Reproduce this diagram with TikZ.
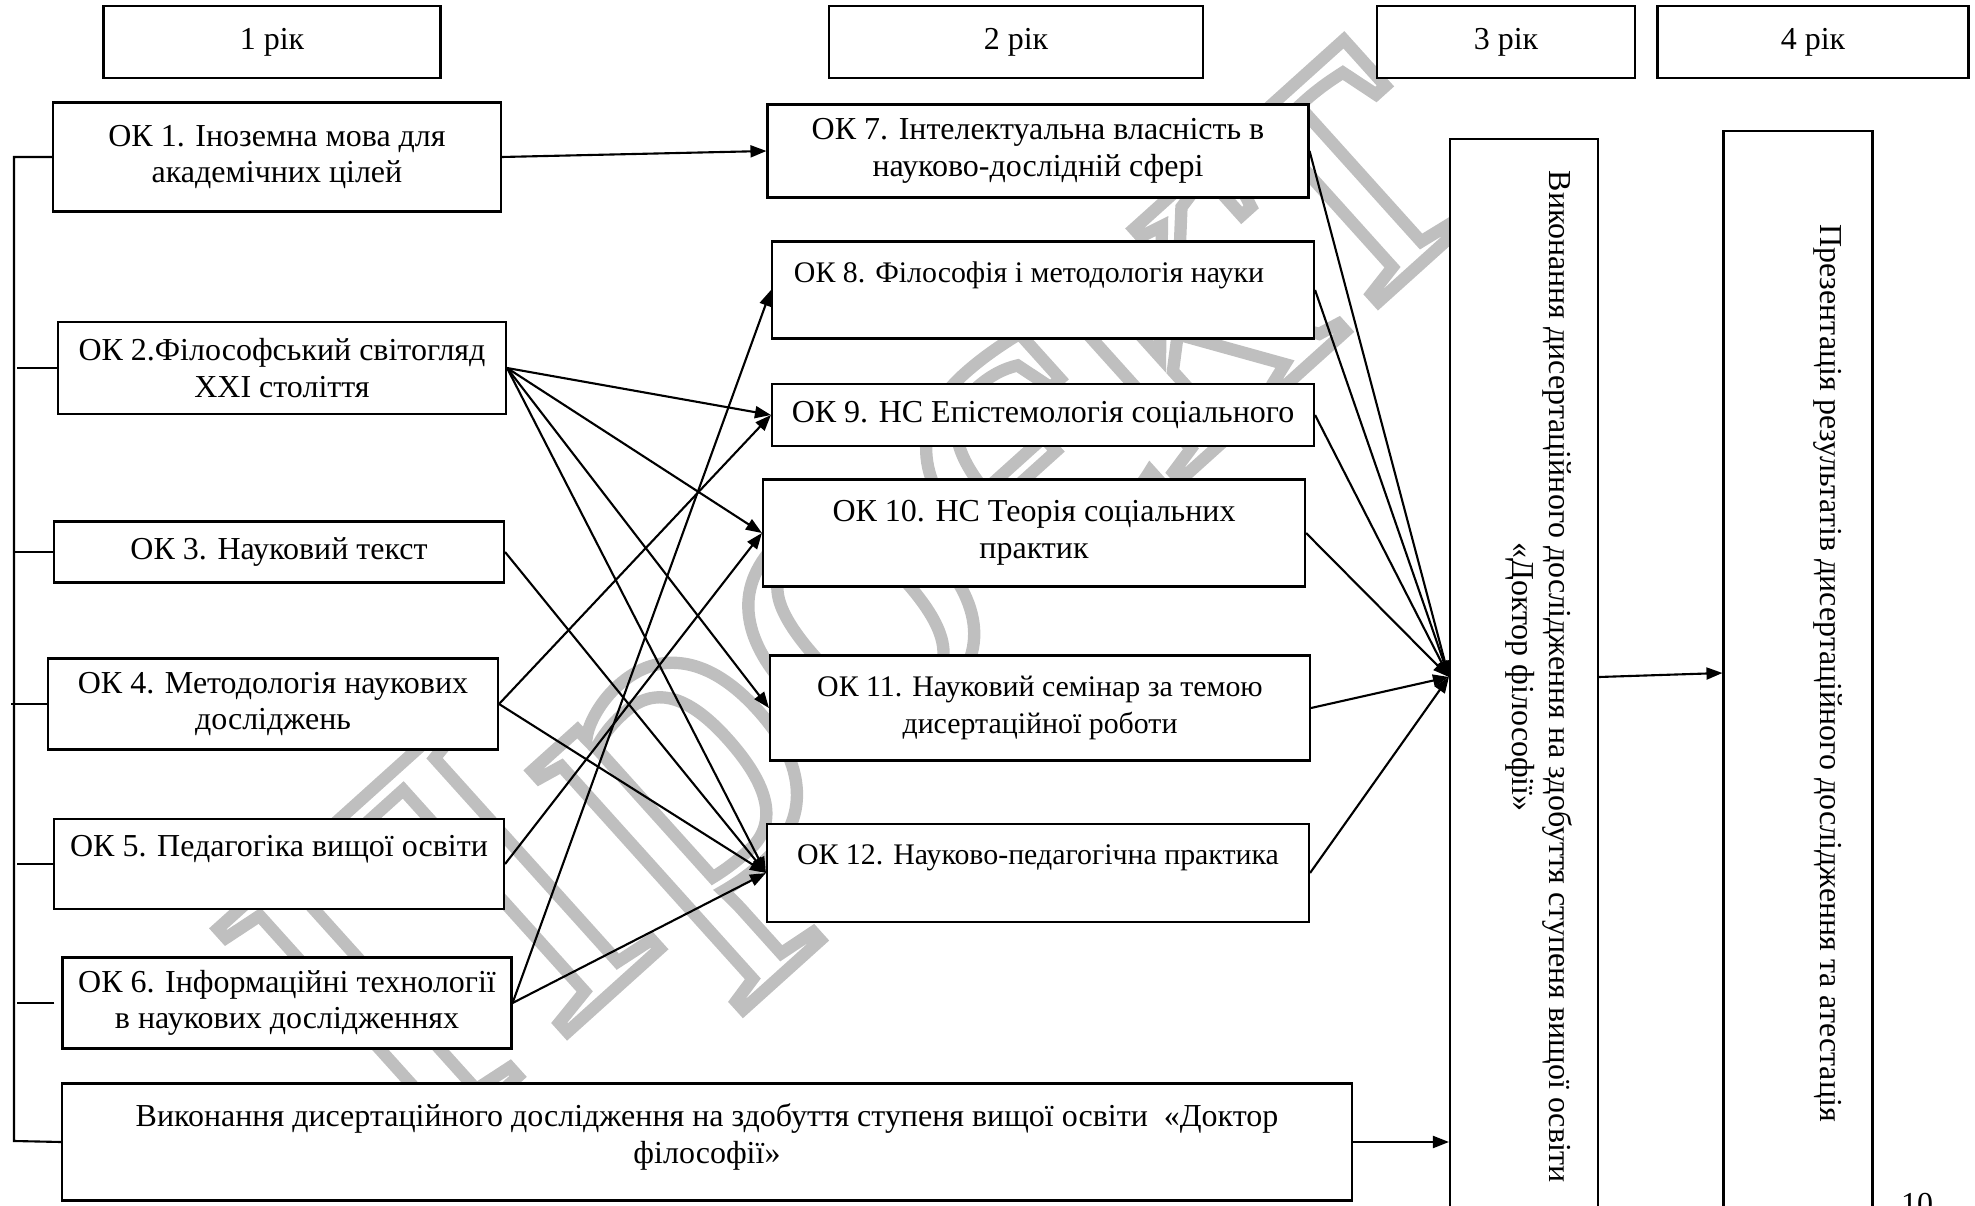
\documentclass[tikz,border=0pt]{standalone}
\usepackage{fontspec}
\setmainfont{Liberation Serif}
\usepackage{graphicx}
\usetikzlibrary{calc,arrows.meta}
\definecolor{wmgray}{RGB}{191,191,191}
\def\okbox{\node[draw=black,fill=white,align=center,inner sep=0pt]}
\def\drawarrow{\draw[-{Triangle[length=1.6mm,width=1.2mm]}]}
\newcommand{\vtext}[1]{\rotatebox{-90}{\begin{tabular}{@{}c@{}}#1\end{tabular}}}
\newcommand{\smallok}{\fontsize{8.5}{10.4}\selectfont}

\begin{document}
\begin{tikzpicture}[x=0.1mm,y=-0.1mm,line width=0.6pt,font=\fontsize{9.1}{10.4}\selectfont]
\useasboundingbox (0,0) rectangle (1975,1206);

% watermark behind everything
\node[rotate=42,text=wmgray,inner sep=0pt] (wmark) at (885,605)
  {\fontsize{135}{135}\selectfont\special{pdf:literal direct 1 Tr 3.5 w}Проєкт\special{pdf:literal direct 0 Tr}};

% ---------- years
\okbox[minimum width=33.7mm,minimum height=7.2mm] (y1) at (272,42) {1 рік};
\okbox[minimum width=37.4mm,minimum height=7.2mm] (y2) at (1016,42) {2 рік};
\okbox[minimum width=25.8mm,minimum height=7.2mm] (y3) at (1506,42) {3 рік};
\okbox[minimum width=31.1mm,minimum height=7.2mm] (y4) at (1813,42) {4 рік};

% ---------- first year
\okbox[minimum width=44.8mm,minimum height=10.9mm] (ok1) at (277,157) {ОК 1. Іноземна мова для\\академічних цілей};
\okbox[minimum width=44.8mm,minimum height=9.2mm] (ok2) at (282,368) {ОК 2.Філософський світогляд\\XXI століття};
\okbox[minimum width=45mm,minimum height=6.1mm] (ok3) at (279,552) {ОК 3. Науковий текст};
\okbox[minimum width=45mm,minimum height=9.1mm] (ok4) at (273,704) {ОК 4. Методологія наукових\\досліджень};
\okbox[minimum width=45mm,minimum height=9mm] (ok5) at (279,864) {ОК 5. Педагогіка вищої освіти\\\mbox{}};
\okbox[minimum width=44.9mm,minimum height=9.1mm] (ok6) at (287,1003) {ОК 6. Інформаційні технології\\в наукових дослідженнях};
\okbox[minimum width=129mm,minimum height=11.7mm] (diss) at (707,1142) {Виконання дисертаційного дослідження на здобуття ступеня вищої освіти \ «Доктор\\філософії»\\[-2mm]\mbox{}};

% ---------- second year
\okbox[minimum width=54.1mm,minimum height=9.3mm] (ok7) at (1038,151) {ОК 7. Інтелектуальна власність в\\науково-дослідній сфері};
\okbox[minimum width=54.2mm,minimum height=9.7mm,font=\smallok] (ok8) at (1043,290) {ОК 8. Філософія і методологія науки\rule{2.8mm}{0pt}\\\mbox{}};
\okbox[minimum width=54.2mm,minimum height=6.2mm] (ok9) at (1043,415) {ОК 9. НС Епістемологія соціального};
\okbox[minimum width=54.2mm,minimum height=10.7mm] (ok10) at (1034,533) {ОК 10. НС Теорія соціальних\\практик};
\okbox[minimum width=54mm,minimum height=10.5mm,font=\smallok] (ok11) at (1040,708) {ОК 11. Науковий семінар за темою\\дисертаційної роботи};
\okbox[minimum width=54.2mm,minimum height=9.8mm,font=\smallok] (ok12) at (1038,873) {ОК 12. Науково-педагогічна практика\\\mbox{}};

% ---------- third and fourth year (run past the page bottom)
\okbox[minimum width=14.8mm,minimum height=107.6mm] (box3) at (1524,677)
  {\vtext{Виконання дисертаційного дослідження на здобуття ступеня вищої освіти\\«Доктор філософії»\\[8pt]}};
\okbox[minimum width=14.9mm,minimum height=108.4mm] (box4) at (1798,673)
  {\vtext{Презентація результатів дисертаційного дослідження та атестація\\[17pt]}};

\node[anchor=north,inner sep=0pt] (page) at (1917,1192) {10};

% left rail
\coordinate (railtop) at (14,157);
\coordinate (railbot) at (14,1141);
\draw (ok1.west) -- (railtop) -- (railbot) -- (diss.west);
\draw (ok2.west) -- ++(-40,0);
\draw (ok3.west) -- ++(-38,0);
\draw (ok4.west) -- ++(-36,0);
\draw (ok5.west) -- ++(-36,0);
\draw ($(ok6.west)+(-7,0)$) -- ++(-37,0);

% first year -> second year
\drawarrow (ok1.east) -- (ok7.west);
\foreach \t in {ok9,ok10,ok11,ok12}
  \drawarrow (ok2.east) -- (\t.west);
\drawarrow (ok3.east) -- (ok12.west);
\drawarrow (ok4.east) -- (ok9.west);
\drawarrow (ok4.east) -- (ok12.west);
\drawarrow (ok5.east) -- (ok10.west);
\drawarrow (ok6.east) -- (ok8.west);
\drawarrow (ok6.east) -- (ok12.west);

% second year -> dissertation
\foreach \n in {7,...,12}
  \drawarrow (ok\n.east) -- (box3.west);
\drawarrow (diss.east) -- (diss.east -| box3.west);
\drawarrow (box3.east) -- (box4.west);
\end{tikzpicture}
\end{document}
